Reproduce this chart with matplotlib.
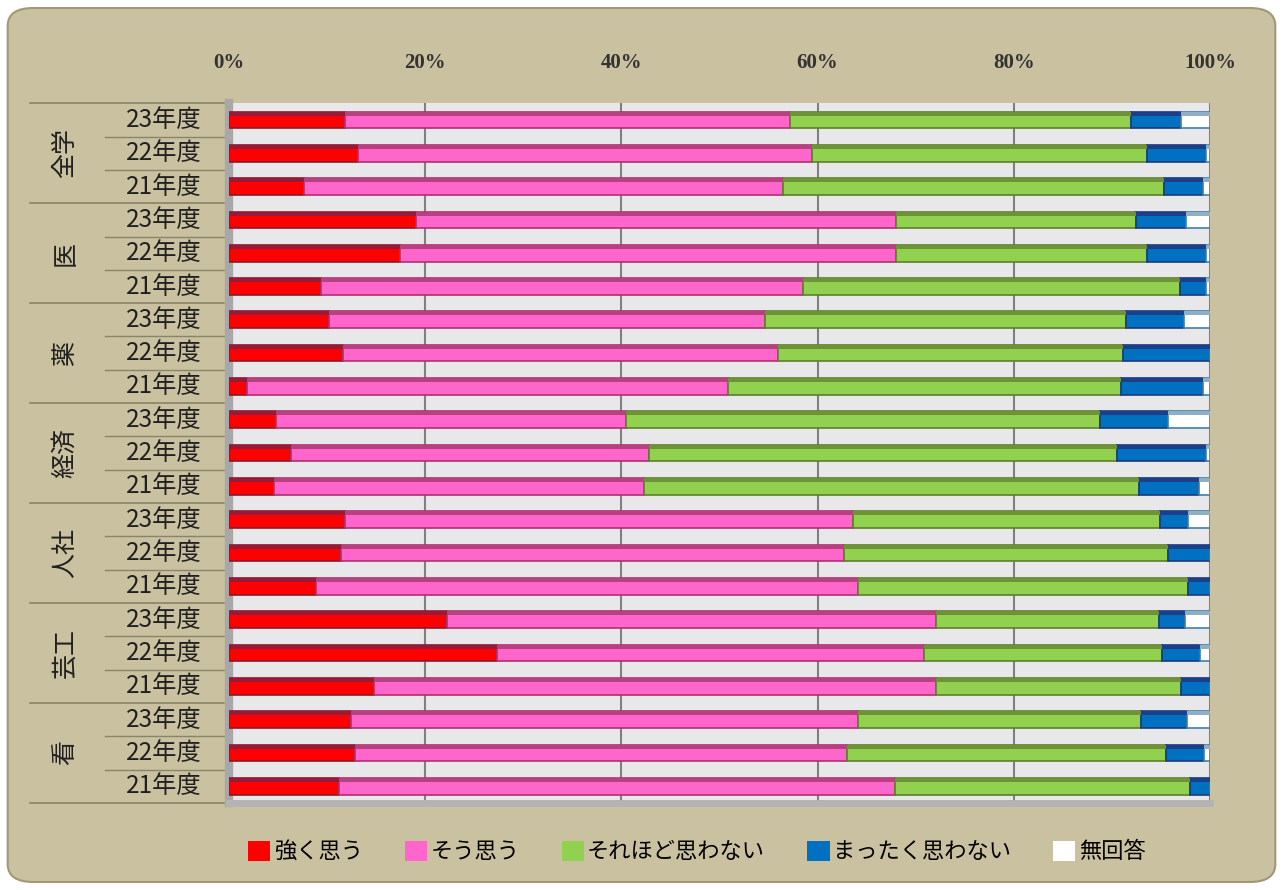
import matplotlib
matplotlib.use("Agg")
import matplotlib.pyplot as plt
from matplotlib.patches import FancyBboxPatch, Patch
import numpy as np

plt.rcParams['font.family'] = ['Noto Sans CJK JP', 'DejaVu Sans']

groups = ["全学", "医", "薬", "経済", "人社", "芸工", "看"]
years = ["23年度", "22年度", "21年度"]
series_names = ["強く思う", "そう思う", "それほど思わない", "まったく思わない", "無回答"]

# percent per answer, rows in order 全学23, 全学22, 全学21, 医23, ...
strong = [11.8, 13.1, 7.6, 19.1, 17.4, 9.4, 10.2, 11.6, 1.8, 4.8, 6.3, 4.6,
          11.8, 11.4, 8.9, 22.2, 27.3, 14.8, 12.4, 12.8, 11.2]
agree = [45.4, 46.3, 48.9, 48.9, 50.6, 49.1, 44.4, 44.4, 49.1, 35.7, 36.5, 37.7,
         51.8, 51.3, 55.2, 49.9, 43.5, 57.3, 51.7, 50.2, 56.7]
not_much = [34.7, 34.2, 38.8, 24.5, 25.6, 38.4, 36.8, 35.1, 40.0, 48.3, 47.7, 50.5,
            31.3, 33.0, 33.7, 22.7, 24.3, 24.9, 28.9, 32.5, 30.1]
not_at_all = [5.1, 6.0, 4.0, 5.1, 6.0, 2.7, 5.9, 8.9, 8.4, 6.9, 9.1, 6.1,
              2.9, 4.3, 2.2, 2.7, 3.9, 3.0, 4.7, 3.9, 2.0]
no_answer = [3.0, 0.4, 0.7, 2.4, 0.4, 0.4, 2.7, 0.0, 0.7, 4.3, 0.4, 1.1,
             2.2, 0.0, 0.0, 2.5, 1.0, 0.0, 2.3, 0.6, 0.0]

colors = ["#FF0000", "#FF66CC", "#92D050", "#0070C0", "#FFFFFF"]
tops = ["#9A1838", "#B8407E", "#6E9236", "#1C3F8C", "#8FB0C4"]
edges = ["#8B1A2A", "#B03070", "#5E7F2A", "#1A3A7A", "#3F7FA8"]

fig = plt.figure(figsize=(12.83, 8.9), dpi=100)
fig.patch.set_facecolor("white")
bg = FancyBboxPatch((0.006, 0.009), 0.988, 0.982, transform=fig.transFigure,
                    boxstyle="round,pad=0,rounding_size=0.02",
                    facecolor="#C9C1A0", edgecolor="#A09878", linewidth=1.5,
                    zorder=-10)
fig.patches.append(bg)

ax = fig.add_axes([0.1785, 0.0978, 0.7646, 0.7862])
ax.set_facecolor("#E8E8EA")

y = np.arange(len(strong))
left = np.zeros(len(strong))
for vals, c, tc, ec in zip([strong, agree, not_much, not_at_all, no_answer],
                           colors, tops, edges):
    vals = np.array(vals)
    ax.barh(y, vals, left=left, height=0.5, color=c, edgecolor=ec,
            linewidth=1.2, zorder=3)
    ax.barh(y - 0.19, vals, left=left, height=0.12, color=tc,
            linewidth=0, zorder=4)
    left = left + vals

ax.set_xlim(0, 100)
ax.set_ylim(len(strong) - 0.5, -0.5)
ax.set_xticks(range(0, 101, 20))
ax.set_xticklabels([f"{v}%" for v in range(0, 101, 20)],
                   fontfamily="Liberation Serif", fontweight="bold", fontsize=15,
                   color="#333333")
ax.xaxis.tick_top()
ax.tick_params(axis="x", length=0, pad=22)
ax.set_yticks([])
ax.grid(axis="x", color="#808080", linewidth=1.5, zorder=1)
for s in ["top", "right"]:
    ax.spines[s].set_visible(False)
ax.spines["left"].set_color("#A8A8A8")
ax.spines["left"].set_linewidth(6)
ax.spines["bottom"].set_color("#B4B4B4")
ax.spines["bottom"].set_linewidth(5)

trans = ax.get_yaxis_transform()
line_col = "#8A8468"
for i, g in enumerate(groups):
    top = i * 3 - 0.5
    ax.plot([-0.203, -0.005], [top, top], transform=trans, color=line_col,
            linewidth=1.2, clip_on=False)
    for j in range(1, 3):
        ax.plot([-0.126, -0.005], [top + j, top + j], transform=trans,
                color=line_col, linewidth=1.0, clip_on=False)
    ax.text(-0.167, i * 3 + 1, g, transform=trans, rotation=90,
            ha="center", va="center", fontsize=18, color="#202020")
    for j, yr in enumerate(years):
        ax.text(-0.028, i * 3 + j, yr, transform=trans, ha="right",
                va="center", fontsize=17.5, color="#202020")
ax.plot([-0.203, -0.005], [len(strong) - 0.5] * 2, transform=trans,
        color=line_col, linewidth=1.2, clip_on=False)

handles = [Patch(facecolor=c, edgecolor="none") for c in colors]
fig.legend(handles, series_names, loc="center", bbox_to_anchor=(0.543, 0.043),
           ncol=5, frameon=False, fontsize=16, handlelength=1.0,
           handleheight=1.0, handletextpad=0.15, columnspacing=1.9)

fig.savefig("out.png", dpi=100)
